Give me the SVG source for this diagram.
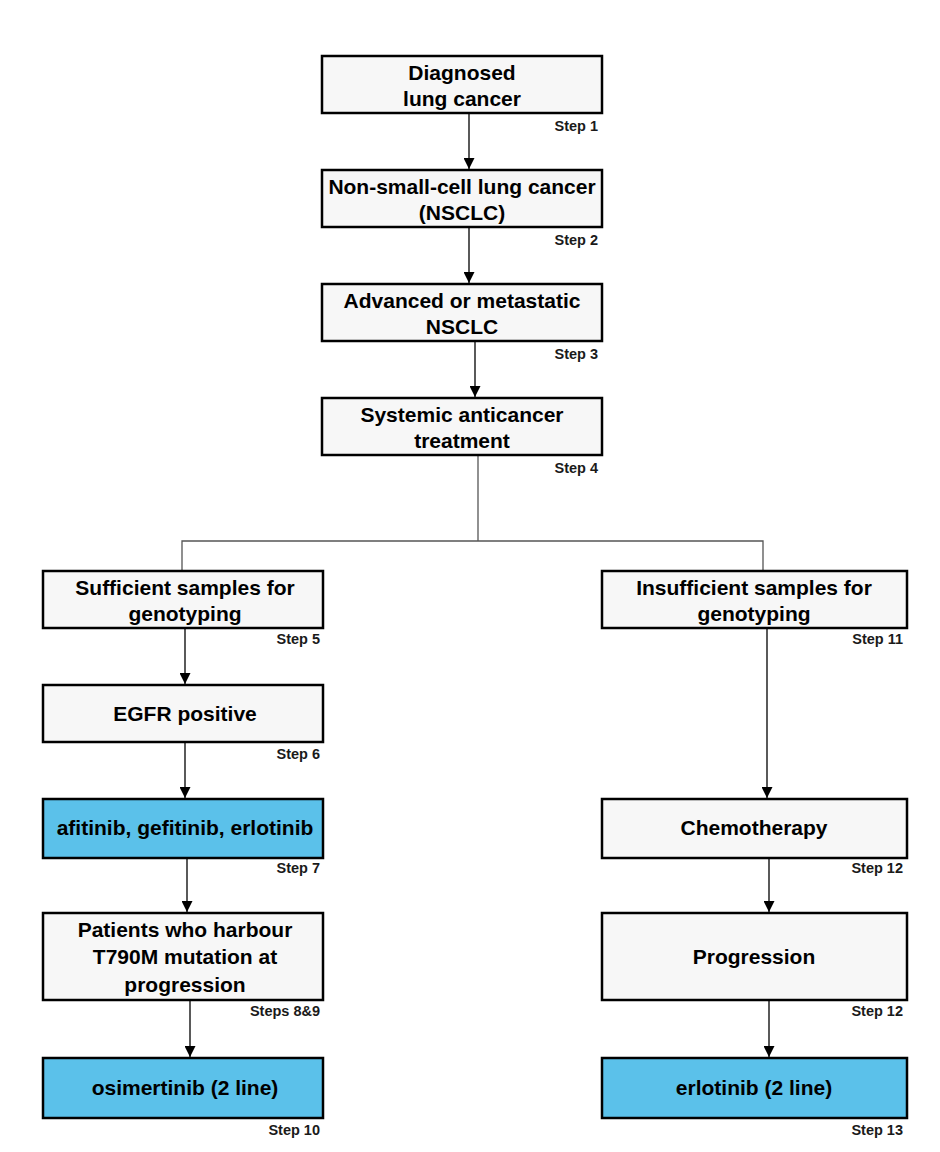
<svg xmlns="http://www.w3.org/2000/svg" width="940" height="1152" viewBox="0 0 940 1152">
<defs>
<marker id="ah" viewBox="0 0 10 10" refX="10" refY="5" markerWidth="11" markerHeight="11" markerUnits="userSpaceOnUse" orient="auto">
<path d="M0,0 L10,5 L0,10 z" fill="#000"/>
</marker>
</defs>
<style>
.box{fill:#f7f7f7;stroke:#000;stroke-width:2.5}
.blue{fill:#5bc1ea;stroke:#000;stroke-width:2.5}
.t{font-family:"Liberation Sans",Arial,sans-serif;font-weight:bold;font-size:21px;text-anchor:middle;fill:#000}
.s{font-family:"Liberation Sans",Arial,sans-serif;font-weight:bold;font-size:14.5px;text-anchor:end;fill:#1a1a1a}
.c{fill:none;stroke:#000;stroke-width:1.3}
.ln{fill:none;stroke:#555;stroke-width:1.3}
</style>
<rect width="940" height="1152" fill="#fff"/>
<g id="connectors">
<line class="c" x1="469" y1="113" x2="469" y2="169" marker-end="url(#ah)"/>
<line class="c" x1="469" y1="227" x2="469" y2="283" marker-end="url(#ah)"/>
<line class="c" x1="475" y1="341" x2="475" y2="397" marker-end="url(#ah)"/>
<polyline class="ln" points="478,455 478,541"/>
<polyline class="ln" points="182,570 182,541 763,541 763,570"/>
<line class="c" x1="185" y1="628" x2="185" y2="684" marker-end="url(#ah)"/>
<line class="c" x1="185" y1="742" x2="185" y2="798" marker-end="url(#ah)"/>
<line class="c" x1="187" y1="858" x2="187" y2="912" marker-end="url(#ah)"/>
<line class="c" x1="190" y1="1000" x2="190" y2="1057" marker-end="url(#ah)"/>
<line class="c" x1="767" y1="628" x2="767" y2="798" marker-end="url(#ah)"/>
<line class="c" x1="769" y1="858" x2="769" y2="912" marker-end="url(#ah)"/>
<line class="c" x1="769" y1="1000" x2="769" y2="1057" marker-end="url(#ah)"/>
</g>
<g id="step1">
<rect class="box" x="322" y="56" width="280" height="57"/>
<text class="t" x="462" y="80">Diagnosed</text>
<text class="t" x="462" y="106">lung cancer</text>
<text class="s" x="598" y="131">Step 1</text>
</g>
<g id="step2">
<rect class="box" x="322" y="170" width="280" height="57"/>
<text class="t" x="462" y="194">Non-small-cell lung cancer</text>
<text class="t" x="462" y="220">(NSCLC)</text>
<text class="s" x="598" y="245">Step 2</text>
</g>
<g id="step3">
<rect class="box" x="322" y="284" width="280" height="57"/>
<text class="t" x="462" y="308">Advanced or metastatic</text>
<text class="t" x="462" y="334">NSCLC</text>
<text class="s" x="598" y="359">Step 3</text>
</g>
<g id="step4">
<rect class="box" x="322" y="398" width="280" height="57"/>
<text class="t" x="462" y="422">Systemic anticancer</text>
<text class="t" x="462" y="448">treatment</text>
<text class="s" x="598" y="473">Step 4</text>
</g>
<g id="step5">
<rect class="box" x="43" y="571" width="280" height="57"/>
<text class="t" x="185" y="595">Sufficient samples for</text>
<text class="t" x="185" y="621">genotyping</text>
<text class="s" x="320" y="644">Step 5</text>
</g>
<g id="step6">
<rect class="box" x="43" y="685" width="280" height="57"/>
<text class="t" x="185" y="721">EGFR positive</text>
<text class="s" x="320" y="759">Step 6</text>
</g>
<g id="step7">
<rect class="blue" x="43" y="799" width="280" height="59"/>
<text class="t" x="185" y="835">afitinib, gefitinib, erlotinib</text>
<text class="s" x="320" y="873">Step 7</text>
</g>
<g id="step8">
<rect class="box" x="43" y="913" width="280" height="87"/>
<text class="t" x="185" y="937">Patients who harbour</text>
<text class="t" x="185" y="964">T790M mutation at</text>
<text class="t" x="185" y="992">progression</text>
<text class="s" x="320" y="1016">Steps 8&amp;9</text>
</g>
<g id="step10">
<rect class="blue" x="43" y="1058" width="280" height="60"/>
<text class="t" x="185" y="1095">osimertinib (2 line)</text>
<text class="s" x="320" y="1135">Step 10</text>
</g>
<g id="step11">
<rect class="box" x="602" y="571" width="305" height="57"/>
<text class="t" x="754" y="595">Insufficient samples for</text>
<text class="t" x="754" y="621">genotyping</text>
<text class="s" x="903" y="644">Step 11</text>
</g>
<g id="step12">
<rect class="box" x="602" y="799" width="305" height="59"/>
<text class="t" x="754" y="835">Chemotherapy</text>
<text class="s" x="903" y="873">Step 12</text>
</g>
<g id="progression">
<rect class="box" x="602" y="913" width="305" height="87"/>
<text class="t" x="754" y="964">Progression</text>
<text class="s" x="903" y="1016">Step 12</text>
</g>
<g id="step13">
<rect class="blue" x="602" y="1058" width="305" height="60"/>
<text class="t" x="754" y="1095">erlotinib (2 line)</text>
<text class="s" x="903" y="1135">Step 13</text>
</g>
</svg>
